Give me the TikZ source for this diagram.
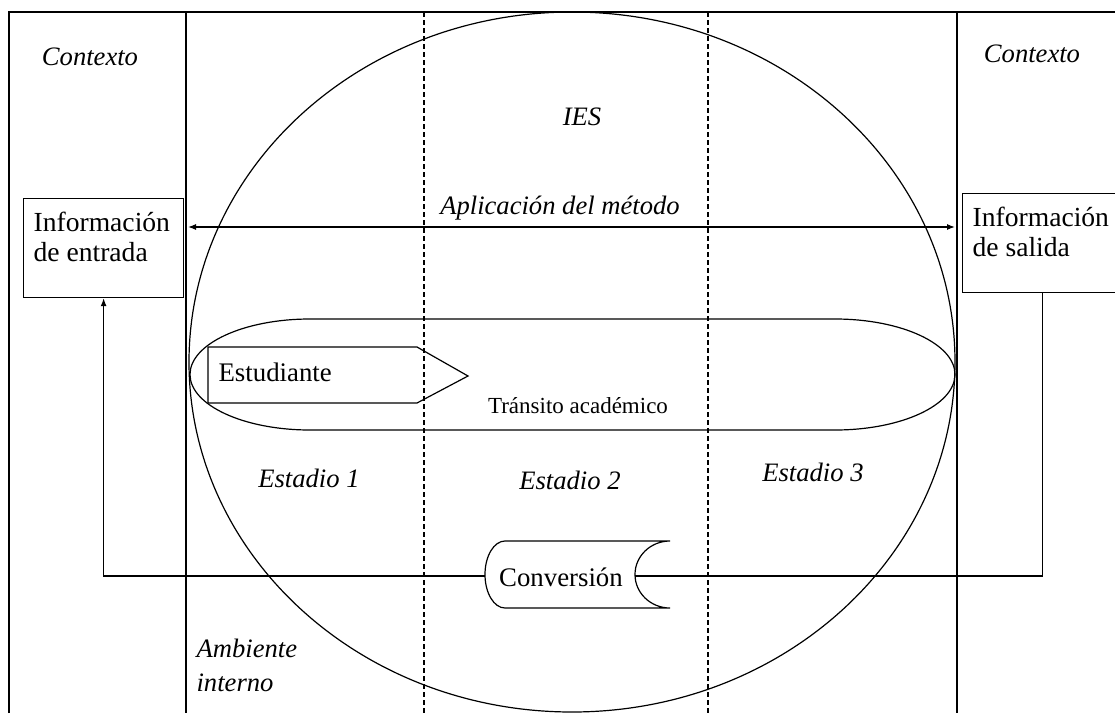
\documentclass[tikz,border=0pt]{standalone}
\usepackage{fontspec}
\setmainfont{Liberation Serif}
\usetikzlibrary{arrows.meta}

\begin{document}
\begin{tikzpicture}[
x=0.5pt, y=0.5pt,
line width=0.6pt,
>={Latex[length=4pt,width=3pt]},
caja/.style = {draw, anchor=north west, minimum width=80pt, minimum height=49.5pt, inner sep=0pt},
infotexto/.style = {anchor=north west, align=left, inner sep=0pt, font=\fontsize{13.8}{15}\selectfont},
etiqueta/.style = {inner sep=0pt, font=\fontsize{13.3}{17}\selectfont\itshape},
texto/.style = {inner sep=0pt, font=\fontsize{13.4}{16}\selectfont},
estadio/.style = {dash pattern=on 2.5pt off 1.5pt}
]
\useasboundingbox (0,0) rectangle (1115,-713);
\clip (0,0) rectangle (1115,-713);

% marco
\draw (9,-713) -- (9,-12) -- (1115,-12);
\draw (186,-12) -- (186,-713);
\draw (957,-12) -- (957,-713);
\draw[estadio] (424,-12) -- (424,-713);
\draw[estadio] (708,-12) -- (708,-713);

% IES
\draw (572,-362) ellipse [x radius=383, y radius=350];

\node[etiqueta] (ctxizq) at (90,-57) {Contexto};
\node[etiqueta] (ctxder) at (1032,-54) {Contexto};
\node[etiqueta] (ies) at (582,-117) {IES};

% informacion
\node[caja] (entrada) at (23,-198) {};
\node[infotexto] (entradatxt) at ([xshift=5pt,yshift=-6.5pt]entrada.north west) {Información\\de entrada};
\node[caja] (salida) at (962,-193) {};
\node[infotexto] (salidatxt) at ([xshift=5pt,yshift=-6.5pt]salida.north west) {Información\\de salida};

% metodo
\coordinate (apizq) at (188,-227);
\coordinate (apder) at (955,-227);
\draw[<->] (apizq) -- (apder);
\node[etiqueta] (metodo) at (560,-208) {Aplicación del método};

% transito
\draw (310,-319) -- (835,-319)
  arc[start angle=90, end angle=-90, x radius=120, y radius=55.5]
  -- (310,-430)
  arc[start angle=270, end angle=90, x radius=120, y radius=55.5] -- cycle;
\node[inner sep=0pt, font=\fontsize{11.5}{14}\selectfont] (transito) at (578,-406) {Tránsito académico};

% estudiante
\draw (208,-347) -- (417,-347) -- (468,-376) -- (417,-403) -- (208,-403) -- cycle;
\node[texto, anchor=west] (estudiante) at (218,-372) {Estudiante};

\node[etiqueta] (est1) at (309,-478) {Estadio 1};
\node[etiqueta] (est2) at (570,-480) {Estadio 2};
\node[etiqueta] (est3) at (813,-472) {Estadio 3};

% conversion
\draw (670,-541) -- (505,-541)
  arc[start angle=90, end angle=270, x radius=20, y radius=33.5]
  -- (670,-608)
  arc[start angle=270, end angle=90, x radius=35, y radius=33.5];
\node[texto] (conversion) at (561,-577) {Conversión};
\coordinate (convizq) at (485,-576);
\coordinate (convder) at (635,-576);
\draw[->] (convizq) -| (entrada.south);
\draw (salida.south) |- (convder);

\node[etiqueta, anchor=north west, align=left] (ambiente) at (196,-638) {Ambiente\\interno};
\end{tikzpicture}
\end{document}
